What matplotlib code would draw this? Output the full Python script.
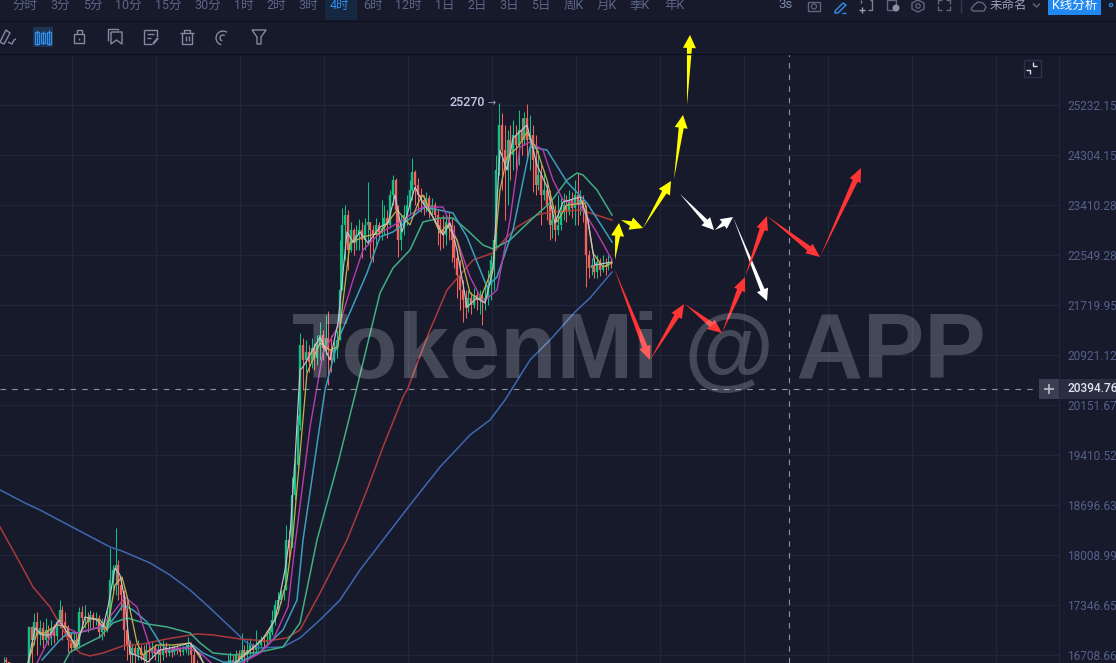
import numpy as np
import matplotlib
matplotlib.use("Agg")
import matplotlib.pyplot as plt
from matplotlib.patches import Polygon, Rectangle, Circle
from matplotlib.transforms import IdentityTransform

BG = "#161a2b"
CANDLE_UP = "#0fc185"
CANDLE_DOWN = "#f4625c"

# 4h candles, open = previous close
closes = [
    16646, 16621, 16400, 16375, 16400, 16363, 16388, 16351, 16400, 17064,
    16899, 17128, 16962, 17051, 16899, 17026, 16924, 17051, 16949, 17128,
    17282, 17128, 17051, 16899, 16798, 16899, 16835, 17257, 17180, 17180,
    17128, 17218, 17154, 17180, 17000, 17090, 17026, 17128, 17675, 17808,
    17875, 17609, 17477, 17026, 16835, 16709, 16798, 16709, 16798, 16709,
    16647, 16772, 16747, 16798, 16722, 16772, 16709, 16772, 16734, 16772,
    16747, 16798, 16772, 16747, 16772, 16798, 16835, 16709, 16546, 16497,
    16400, 16339, 16278, 16363, 16302, 16400, 16339, 16375, 16400, 16461,
    16522, 16647, 16584, 16709, 16647, 16772, 16709, 16772, 16835, 16772,
    16835, 16835, 16899, 16873, 16899, 17000, 17154, 17347, 17412, 17517,
    17543, 18213, 18104, 18838, 19266, 19852, 21079, 20843, 20968, 20812,
    21031, 20874, 21079, 21237, 21031, 21189, 21000, 20843, 21000, 21158,
    21965, 23062, 23235, 22634, 22976, 22753, 22890, 22976, 22804, 23062,
    23114, 22976, 22890, 23062, 22942, 23010, 23183, 23062, 23586, 23853,
    23322, 22804, 23010, 23235, 23410, 23675, 23997, 23764, 23586, 23498,
    23410, 23533, 23322, 23410, 23235, 23062, 22976, 22890, 23114, 23062,
    22804, 22498, 22214, 21965, 21801, 21671, 21834, 21720, 21883, 21801,
    21867, 21769, 21834, 22048, 22465, 22804, 24033, 24857, 24395, 24033,
    24579, 24304, 24671, 24487, 24764, 24579, 24995, 24579, 24671, 24213,
    23764, 23943, 23586, 23675, 23410, 23062, 23148, 22976, 23062, 23322,
    23410, 23287, 23498, 23357, 23586, 23410, 23498, 23322, 22549, 22331,
    22381, 22264, 22432, 22298, 22381, 22348, 22415, 22398,
]
highs = [
    16684, 16684, 16497, 16461, 16473, 16449, 16461, 16437, 16497, 17077,
    17077, 17244, 17257, 17154, 17128, 17180, 17090, 17154, 17103, 17180,
    17412, 17334, 17257, 17090, 17000, 17026, 16987, 17321, 17334, 17347,
    17257, 17282, 17257, 17257, 17218, 17180, 17154, 17282, 18104, 17875,
    18378, 17942, 17701, 17543, 17412, 16899, 16860, 16835, 16899, 16835,
    16835, 16860, 16873, 16886, 16848, 16835, 16835, 16899, 16873, 16835,
    16823, 16835, 16835, 16810, 16823, 16848, 16937, 16873, 16772, 16647,
    16584, 16522, 16497, 16546, 16497, 16584, 16546, 16546, 16584, 16621,
    16709, 16747, 16709, 16772, 16772, 16987, 16835, 16899, 16924, 16860,
    17026, 16899, 16949, 16937, 16962, 17064, 17282, 17412, 17517, 17543,
    17609, 18419, 18351, 19094, 19368, 20002, 21269, 21189, 21158, 21079,
    21189, 21110, 21237, 21445, 21317, 21558, 21623, 21237, 21158, 21317,
    22804, 23357, 23410, 23322, 23114, 23010, 23062, 23166, 23114, 23183,
    23817, 23096, 23062, 23183, 23114, 23498, 23410, 23322, 23675, 23943,
    23889, 23410, 23235, 23410, 23586, 23853, 24250, 24033, 23889, 23711,
    23586, 23640, 23586, 23533, 23463, 23322, 23183, 23235, 23235, 23287,
    23183, 23062, 22634, 22465, 22131, 21965, 21965, 21932, 21998, 21932,
    21965, 21932, 22048, 22298, 22549, 22890, 24304, 25270, 25082, 24857,
    24764, 24857, 24950, 24857, 25138, 24995, 25100, 25251, 25044, 24857,
    24671, 24395, 24123, 24033, 23853, 23675, 23410, 23410, 23586, 23533,
    23622, 23586, 23675, 23640, 23853, 23979, 23675, 23586, 23410, 22634,
    22498, 22498, 22549, 22498, 22549, 22498, 22549, 22498,
]
lows = [
    16522, 16497, 16278, 16278, 16302, 16278, 16278, 16254, 16278, 16375,
    16609, 16835, 16709, 16835, 16798, 16835, 16835, 16835, 16860, 16899,
    17051, 16899, 16949, 16747, 16747, 16772, 16772, 16798, 17051, 17051,
    17000, 17051, 17051, 17090, 16924, 16899, 16949, 17000, 17090, 17543,
    17477, 17412, 17282, 16772, 16647, 16609, 16584, 16546, 16647, 16647,
    16546, 16584, 16621, 16671, 16647, 16621, 16596, 16647, 16684, 16697,
    16684, 16709, 16722, 16697, 16709, 16734, 16709, 16609, 16400, 16278,
    16278, 16218, 16158, 16254, 16182, 16278, 16218, 16254, 16278, 16302,
    16400, 16497, 16461, 16546, 16546, 16609, 16546, 16621, 16709, 16709,
    16747, 16772, 16798, 16798, 16835, 16873, 16962, 17090, 17257, 17373,
    17412, 17543, 17942, 18213, 18768, 19194, 19778, 20379, 20657, 20657,
    20718, 20687, 20765, 20843, 20843, 20921, 20456, 20657, 20812, 20874,
    21158, 21965, 22465, 22298, 22600, 22549, 22634, 22634, 22498, 22634,
    22719, 22498, 22432, 22719, 22804, 22804, 22890, 22839, 23010, 23410,
    22976, 22515, 22634, 22890, 23062, 23235, 23498, 23410, 23322, 23287,
    23235, 23287, 23183, 23235, 23114, 22719, 22634, 22668, 22719, 22804,
    22432, 22331, 21834, 21639, 21445, 21510, 21607, 21575, 21671, 21639,
    21575, 21397, 21639, 21720, 21801, 21965, 22634, 23943, 23675, 23148,
    23410, 23853, 24033, 23943, 24123, 24304, 24487, 24213, 24033, 23640,
    23586, 23675, 23062, 23498, 23148, 22804, 22839, 22787, 22890, 22976,
    23148, 23114, 23235, 23183, 23062, 23062, 23235, 23114, 22015, 22164,
    22214, 22164, 22164, 22197, 22264, 22214, 22298, 22331,
]

# moving averages, (x, price)
ma_white_x = [28, 35, 42, 50, 59, 70, 77, 85, 97, 103, 108, 115, 120, 125, 130, 140, 148, 160, 175, 190, 200, 205, 228, 245, 262, 275, 285, 290, 295, 300, 303, 320, 330, 338, 347, 353, 360, 368, 380, 388, 395, 402, 415, 423, 433, 443, 450, 457, 467, 477, 485, 493, 500, 507, 513, 527, 537, 547, 555, 563, 580, 588, 595, 612]
ma_white = [16609, 17051, 16962, 16962, 17154, 16937, 16810, 17192, 17154, 17064, 17321, 17835, 17741, 17412, 16734, 16684, 16621, 16772, 16810, 16860, 16709, 16546, 16546, 16709, 16899, 17154, 17808, 18282, 19339, 20687, 20734, 21205, 20843, 21429, 22942, 22770, 22942, 22753, 23028, 23096, 23586, 22942, 23728, 23445, 23200, 22890, 23096, 22634, 21688, 21834, 21753, 22298, 24395, 24033, 24613, 24857, 24123, 23728, 23096, 23463, 23551, 23148, 22381, 22432]
ma_yellow_x = [28, 37, 45, 57, 67, 75, 80, 90, 100, 107, 115, 122, 128, 137, 143, 157, 173, 190, 197, 207, 235, 240, 253, 267, 278, 287, 293, 307, 320, 330, 338, 342, 350, 363, 380, 397, 410, 418, 423, 440, 447, 457, 470, 480, 493, 500, 507, 518, 527, 537, 547, 557, 567, 585, 593, 603, 612]
ma_yellow = [16609, 16987, 16987, 17090, 17064, 16798, 16987, 17180, 17154, 17026, 17609, 17715, 17412, 16860, 16709, 16835, 16835, 16860, 16734, 16546, 16546, 16684, 16798, 16962, 17244, 17675, 18282, 20641, 21110, 20999, 21047, 21639, 22753, 22856, 22925, 23322, 23062, 23445, 23586, 22925, 23062, 22804, 21916, 21801, 22348, 23675, 24268, 24450, 24727, 24395, 23853, 23114, 23410, 23445, 22583, 22348, 22415]
ma_magenta_x = [37, 47, 58, 77, 100, 113, 125, 137, 147, 152, 157, 187, 200, 217, 233, 260, 273, 288, 295, 310, 323, 340, 353, 363, 380, 403, 417, 423, 443, 457, 470, 483, 497, 510, 520, 530, 543, 553, 563, 580, 597, 612]
ma_magenta = [16609, 16860, 17116, 16987, 17064, 17244, 17451, 17321, 16924, 16734, 16772, 16798, 16734, 16546, 16546, 16734, 16899, 17321, 18145, 19822, 20952, 21429, 22131, 22634, 22925, 23148, 23322, 23375, 23375, 22804, 22181, 21769, 21965, 23148, 24450, 24542, 24395, 23853, 23498, 23410, 22925, 22465]
ma_cyan_x = [42, 60, 68, 78, 97, 107, 115, 123, 133, 147, 160, 170, 193, 203, 223, 240, 260, 283, 297, 303, 325, 338, 367, 380, 393, 417, 425, 453, 467, 487, 497, 513, 530, 547, 567, 587, 612]
ma_cyan = [16647, 16899, 16987, 16987, 17051, 17064, 17192, 17347, 17282, 17128, 16860, 16747, 16835, 16734, 16621, 16621, 16747, 17026, 17412, 18213, 20379, 21158, 22247, 22856, 22942, 23270, 23375, 23270, 22856, 22015, 22181, 22976, 24450, 24395, 23817, 23445, 22770]
ma_green_x = [55, 70, 100, 113, 127, 147, 167, 190, 200, 213, 233, 260, 283, 300, 317, 338, 357, 380, 393, 410, 423, 440, 453, 467, 483, 493, 510, 533, 550, 567, 577, 583, 597, 612]
ma_green = [16400, 16747, 16937, 17116, 17180, 17103, 17064, 16987, 16860, 16734, 16709, 16747, 16810, 17116, 18213, 19295, 20425, 21916, 22331, 22634, 23114, 23183, 23183, 22976, 22719, 22651, 22804, 23183, 23445, 23853, 23979, 23943, 23675, 23235]
ma_red_x = [0, 20, 33, 50, 67, 80, 90, 103, 123, 143, 167, 197, 213, 240, 267, 287, 300, 320, 347, 367, 383, 403, 408, 430, 447, 473, 493, 507, 517, 537, 550, 580, 590, 612]
ma_red = [18392, 17902, 17583, 17321, 16937, 16734, 16697, 16734, 16823, 16848, 16911, 16975, 16962, 16911, 16886, 16924, 17026, 17503, 18213, 18909, 19528, 20273, 20410, 21317, 21965, 22465, 22583, 22856, 23028, 23235, 23287, 23322, 23270, 23148]
ma_blue_x = [0, 25, 40, 72, 110, 122, 150, 170, 190, 210, 230, 247, 260, 283, 300, 320, 340, 360, 383, 410, 440, 470, 490, 505, 530, 550, 575, 590, 612]
ma_blue = [18909, 18725, 18627, 18392, 18118, 18063, 17902, 17741, 17543, 17308, 17064, 16860, 16798, 16810, 16924, 17154, 17412, 17808, 18213, 18697, 19237, 19704, 19927, 20227, 20843, 21158, 21607, 21834, 22264]

price_ticks = [25232.15, 24304.15, 23410.28, 22549.28, 21719.95, 20921.12, 20151.67, 19410.52, 18696.63, 18008.99, 17346.65, 16708.66]
time_ticks = [72, 156, 240, 324, 408, 492, 576, 660, 744, 828, 912, 996]
last_price = 20394.76
cross_x = 788.5
peak_x = 499
peak_price = 25270

# drawn forecast arrows, (x0, p0, x1, p1)
yellow_arrows = [(615, 22465, 619, 23096), (621, 23148, 643, 23010), (643, 23010, 671, 23835), (674, 23871, 683, 25044), (687, 25232, 690, 26591)]
white_arrows = [(680, 23604, 714, 22976), (715, 22976, 733, 23200), (733, 23200, 767, 21785)]
red_arrows = [(614, 22331, 650, 20843), (650, 20843, 684, 21736), (685, 21736, 722, 21269), (722, 21269, 745, 22181), (745, 22181, 767, 23218), (767, 23218, 820, 22515), (820, 22515, 861, 24069)]

periods = ["分时", "3分", "5分", "10分", "15分", "30分", "1时", "2时", "3时", "4时", "6时", "12时", "1日", "2日", "3日", "5日", "周K", "月K", "季K", "年K"]
period_x = [12, 50, 83, 115, 155, 194, 234, 266, 298, 330, 363, 395, 435, 467, 499, 531, 564, 597, 630, 664]

plt.rcParams["font.family"] = ["Roboto", "Noto Sans CJK SC", "DejaVu Sans"]
fig = plt.figure(figsize=(11.16, 6.63), dpi=100, facecolor=BG)

# chart
ax = fig.add_axes([0, 0, 1059 / 1116, (663 - 54) / 663], facecolor=BG)
ax.set_yscale("log")
ax.set_xlim(0, 1059)
ax.set_ylim(16609, 26215)
for s in ["top", "left", "bottom"]:
    ax.spines[s].set_visible(False)
ax.spines["right"].set_color("#23273b")
ax.yaxis.tick_right()
ax.set_yticks(price_ticks)
ax.set_yticklabels(["%.2f" % p for p in price_ticks])
ax.minorticks_off()
ax.tick_params(axis="y", length=0, pad=6, labelsize=8.6, labelcolor="#55608a")
ax.set_xticks(time_ticks)
ax.tick_params(axis="x", length=0, labelbottom=False)
ax.grid(True, color="#21253a", linewidth=0.9)
ax.set_axisbelow(True)

# candles
closes = np.array(closes)
opens = np.concatenate([closes[:1], closes[:-1]])
bar_x = 3.6 + 2.8 * np.arange(len(closes))
colors = [CANDLE_UP if c >= o else CANDLE_DOWN for o, c in zip(opens, closes)]
ax.vlines(bar_x, lows, highs, colors=colors, linewidth=0.75, zorder=2)
ax.vlines(bar_x, opens, closes, colors=colors, linewidth=1.7, zorder=2)

ax.plot(ma_blue_x, ma_blue, color="#3f68b0", lw=1.1, zorder=3)
ax.plot(ma_red_x, ma_red, color="#ab3a3c", lw=1.1, zorder=3)
ax.plot(ma_green_x, ma_green, color="#3fae82", lw=1.1, zorder=3)
ax.plot(ma_cyan_x, ma_cyan, color="#3d9dbd", lw=1.1, zorder=3)
ax.plot(ma_magenta_x, ma_magenta, color="#b93cae", lw=1.0, zorder=3)
ax.plot(ma_yellow_x, ma_yellow, color="#c2b24c", lw=0.9, zorder=3)
ax.plot(ma_white_x, ma_white, color="#c4c4cc", lw=0.85, zorder=3)

# crosshair
ax.axhline(last_price, xmax=1035 / 1059, color="#8d92a3", lw=0.8, dashes=(5, 5.5), zorder=4)
ax.axvline(cross_x, color="#8d92a3", lw=0.8, dashes=(5, 5.5), zorder=4)

ax.text(peak_x - 49, peak_price, "25270", color="#c3cbe4", fontsize=9, va="center", ha="left", fontweight="medium")
ax.text(peak_x - 11, peak_price, "→", color="#9aa0b4", fontsize=7, va="center", ha="left", family="DejaVu Sans")


def taper_arrow(x0, p0, x1, p1, color, sw, hw, hl):
    a = ax.transData.transform((x0, p0))
    b = ax.transData.transform((x1, p1))
    u = (b - a) / np.hypot(*(b - a))
    n = np.array([-u[1], u[0]])
    neck = b - u * hl
    pts = [a, neck + n * sw / 2, neck + n * hw / 2, b, neck - n * hw / 2, neck - n * sw / 2]
    fig.add_artist(Polygon(pts, closed=True, facecolor=color, edgecolor="none", transform=IdentityTransform(), zorder=5))


for a in yellow_arrows:
    taper_arrow(*a, "#ffff00", 5, 13, 13)
for a in white_arrows:
    taper_arrow(*a, "#ffffff", 4.5, 12, 12)
for a in red_arrows:
    taper_arrow(*a, "#ff3434", 5.5, 12, 14)

# toolbars and watermark in figure pixels
ui = fig.add_axes([0, 0, 1, 1], facecolor="none", zorder=10)
ui.set_xlim(0, 1116)
ui.set_ylim(663, 0)
ui.axis("off")

ICON = "#8489a0"
DIM = "#5d6688"


def ln(xs, ys, color=ICON, lw=1.0):
    ui.plot(xs, ys, color=color, lw=lw, solid_capstyle="butt")


def box(x, y, w, h, face="none", edge="none", lw=1.0):
    ui.add_patch(Rectangle((x, y), w, h, facecolor=face, edgecolor=edge, lw=lw))


ln([0, 1116], [20.5, 20.5], "#0e111e", 1.0)
ln([0, 1116], [53.5, 53.5], "#0d101c", 1.0)

box(325, 0, 32, 20, face="#16283f")
for name, x in zip(periods, period_x):
    ui.text(x, 5, name, color="#2f8ff0" if name == "4时" else DIM, fontsize=9, va="center", ha="left")

ui.text(778, 5, "3s", color="#7f8bab", fontsize=9.5, va="center", ha="left")
# camera
box(808, 2, 12, 9, edge="#60667f")
ui.add_patch(Circle((814, 6.5), 2.5, facecolor="none", edgecolor="#60667f", lw=0.9))
# pencil
ln([835, 843, 846, 838, 835, 835], [11, 3, 5, 13, 13, 11], "#2f8ff0", 1.0)
ln([842, 846], [13, 13], "#2f8ff0", 1.0)
# frame plus
ln([861, 861], [0, 3], "#7b8098")
ln([870, 872, 872, 868], [0, 0, 10, 10], "#7b8098")
ln([862, 862], [7, 13], "#9ca1b4")
ln([859, 865], [10, 10], "#9ca1b4")
# doc
box(887, 0, 9, 10, edge="#60667f")
ui.add_patch(Circle((896, 8), 3.5, facecolor="#8a8fa5", edgecolor="none"))
# hexagon
ln([918, 924, 924, 918, 912, 912, 918], [0, 3, 9, 12, 9, 3, 0], "#60667f")
ui.add_patch(Circle((918, 6), 2.2, facecolor="none", edgecolor="#60667f", lw=0.9))
# expand
for dx, dy in [(-1, -1), (1, -1), (-1, 1), (1, 1)]:
    ln([944 + dx * 6, 944 + dx * 6, 944 + dx * 2], [5 + dy * 1, 5 + dy * 5, 5 + dy * 5], "#60667f")
ln([961, 961], [0, 13], "#343950")
# cloud
ln([971, 974, 978, 983, 986, 984, 973, 971], [9, 5, 2, 3, 7, 11, 11, 9], "#60667f")
ui.text(990, 5, "未命名", color="#9aa0b4", fontsize=9, va="center", ha="left")
ln([1033, 1036.5, 1040], [3.5, 7, 3.5], "#60667f")
ui.add_patch(Rectangle((1048, -2), 53, 17, facecolor="#2088f0", edgecolor="none"))
ui.text(1074.5, 5, "K线分析", color="#ffffff", fontsize=9, va="center", ha="center")
ui.add_patch(Circle((1111, 5), 1.6, facecolor="none", edgecolor="#2f8ff0", lw=0.9))

# second row icons
ln([0, 6, 10, 4, 0], [42, 30, 33, 44, 42])
ln([8, 12, 14, 16], [42, 44, 40, 39])
box(33, 27, 20, 20, face="#1f3450")
for x, top, bot in [(37, 32, 44), (43, 33, 43), (49, 32, 44)]:
    ln([x, x], [top - 2, bot + 1], "#2f8ff0", 0.9)
    box(x - 1.8, top, 3.6, bot - top, edge="#2f8ff0", lw=0.9)
ln([74, 84, 84, 74, 74], [34, 34, 43, 43, 34])
ln([76.5, 76.5, 81.5, 81.5], [34, 30, 30, 34])
ln([79, 79], [37.5, 39.5])
ln([108, 108, 118, 118], [41, 29, 29, 30])
ln([111, 122, 122, 116.5, 111, 111], [32, 32, 44, 40, 44, 32])
ln([144, 157, 157], [30, 30, 37])
ln([144, 144, 152], [30, 44, 44])
ln([147, 154], [34, 34])
ln([147, 151], [38, 38])
ln([153, 158], [44, 38], lw=1.6)
ln([180, 194], [33, 33])
ln([184, 184, 190, 190], [33, 30, 30, 33])
ln([182, 182, 192, 192], [33, 44, 44, 33])
ln([185.5, 185.5], [36, 41])
ln([188.5, 188.5], [36, 41])
# magnet
th = np.radians(np.arange(-30, 190, 20))
rot = np.radians(135)
ln(223 + 7 * np.cos(th + rot), 38 + 7 * np.sin(th + rot), ICON, 1.0)
ln(223 + 3 * np.cos(th + rot), 38 + 3 * np.sin(th + rot), ICON, 1.0)
ln([252, 266, 261, 261, 257, 257, 252], [30, 30, 37, 44, 44, 37, 30])

# reset button
box(1023.5, 59.5, 17, 17, edge="#2d3149")
ln([1033, 1033, 1037], [62, 66, 66], "#d8dbe6")
ln([1026, 1030, 1030], [70, 70, 74], "#d8dbe6")

# last price tag
box(1039, 379, 20, 20, face="#3a3e50")
ln([1044, 1054], [389, 389], "#b9bdcb", 1.2)
ln([1049, 1049], [384, 394], "#b9bdcb", 1.2)
box(1060, 379, 56, 20, face="#2a2e41")
ui.text(1068, 389, "%.2f" % last_price, color="#e4e7f2", fontsize=8.6, va="center", ha="left", fontweight="medium")

ui.text(292, 378, "TokenMi @ APP", color="#ffffff", alpha=0.2, fontsize=66.3, fontweight="bold",
        family="Liberation Sans", va="baseline", ha="left", zorder=20)

fig.savefig("out.png", dpi=100, facecolor=BG)
